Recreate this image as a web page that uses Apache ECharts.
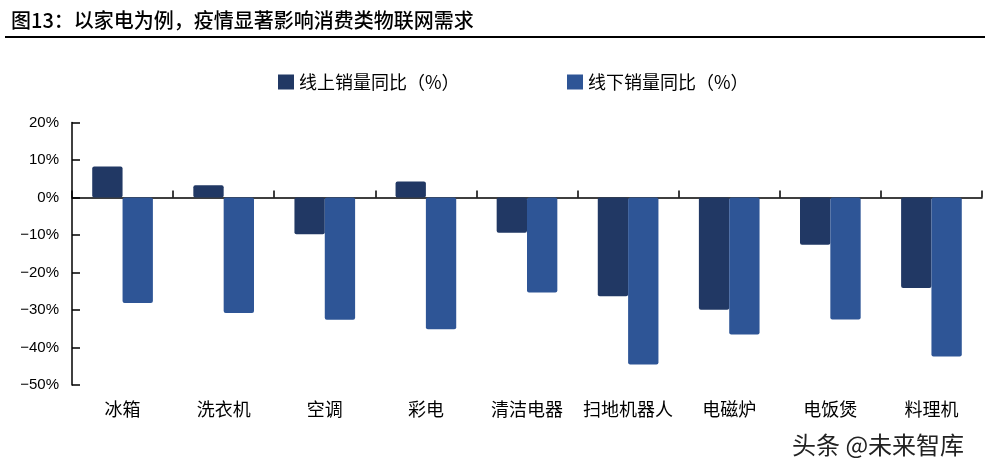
<!DOCTYPE html>
<html>
<head>
<meta charset="utf-8">
<script src="https://cdn.jsdelivr.net/npm/echarts@6/dist/echarts.min.js"></script>
<style>
html,body{margin:0;padding:0;background:#fff;}
#c{width:985px;height:476px;}
</style>
</head>
<body>
<div id="c"></div>
<script>
const categories = ['冰箱','洗衣机','空调','彩电','清洁电器','扫地机器人','电磁炉','电饭煲','料理机'];
const onlineYoY = [8.3, 3.3, -9.8, 4.3, -9.4, -26.3, -29.9, -12.6, -24.1];
const offlineYoY = [-28.1, -30.8, -32.6, -35.1, -25.3, -44.5, -36.5, -32.5, -42.4];
const seriesNames = ['线上销量同比（%）', '线下销量同比（%）'];
const yTicks = { min: -50, max: 20, interval: 10 };

const font = '"Noto Sans CJK SC", "Liberation Sans", sans-serif';
const chart = echarts.init(document.getElementById('c'));
chart.setOption({
  animation: false,
  backgroundColor: '#fff',
  title: {
    text: '图13：以家电为例，疫情显著影响消费类物联网需求',
    left: 6, top: 5,
    textStyle: { fontFamily: font, fontSize: 20, fontWeight: 500, color: '#000' }
  },
  graphic: [
    { type: 'line', shape: { x1: 5, y1: 37, x2: 985, y2: 37 }, style: { stroke: '#000', lineWidth: 2 } },
    { type: 'text', left: 792, top: 433, style: { text: '头条 @未来智库', fontFamily: font, fontSize: 24, fill: '#222' } }
  ],
  legend: [
    { data: [seriesNames[0]], left: 273, top: 68, icon: 'rect', itemWidth: 16, itemHeight: 15, itemGap: 4,
      textStyle: { fontFamily: font, fontSize: 18, color: '#000' } },
    { data: [seriesNames[1]], left: 562, top: 68, icon: 'rect', itemWidth: 16, itemHeight: 15, itemGap: 4,
      textStyle: { fontFamily: font, fontSize: 18, color: '#000' } }
  ],
  grid: { left: 72, right: 3, top: 122.5, bottom: 91, containLabel: false },
  xAxis: [
    { type: 'category', data: categories, position: 'bottom',
      axisLine: { onZero: true, lineStyle: { color: '#000', width: 1.5 } },
      axisTick: { show: true, inside: true, length: 7, lineStyle: { color: '#000', width: 1.5 } },
      axisLabel: { show: false }, splitLine: { show: false } },
    { type: 'category', data: categories, position: 'bottom',
      axisLine: { show: false, onZero: false }, axisTick: { show: false },
      axisLabel: { interval: 0, margin: 15, fontFamily: font, fontSize: 18, color: '#000' } }
  ],
  yAxis: {
    type: 'value', min: yTicks.min, max: yTicks.max, interval: yTicks.interval,
    axisLine: { show: true, lineStyle: { color: '#000', width: 1.5 } },
    axisTick: { show: true, inside: true, length: 8, lineStyle: { color: '#000', width: 1.5 } },
    splitLine: { show: false },
    axisLabel: { margin: 13, fontFamily: '"Liberation Sans", Arial, sans-serif', fontSize: 15, color: '#000',
      formatter: v => (v < 0 ? '\u2212' + Math.abs(v) : v) + '%' }
  },
  series: [
    { name: seriesNames[0], type: 'bar', xAxisIndex: 0, data: onlineYoY, barWidth: '30%', barGap: '0%',
      itemStyle: { color: '#213864', borderRadius: 2 } },
    { name: seriesNames[1], type: 'bar', xAxisIndex: 0, data: offlineYoY, barWidth: '30%', barGap: '0%',
      itemStyle: { color: '#2E5596', borderRadius: 2 } }
  ]
});
</script>
</body>
</html>
